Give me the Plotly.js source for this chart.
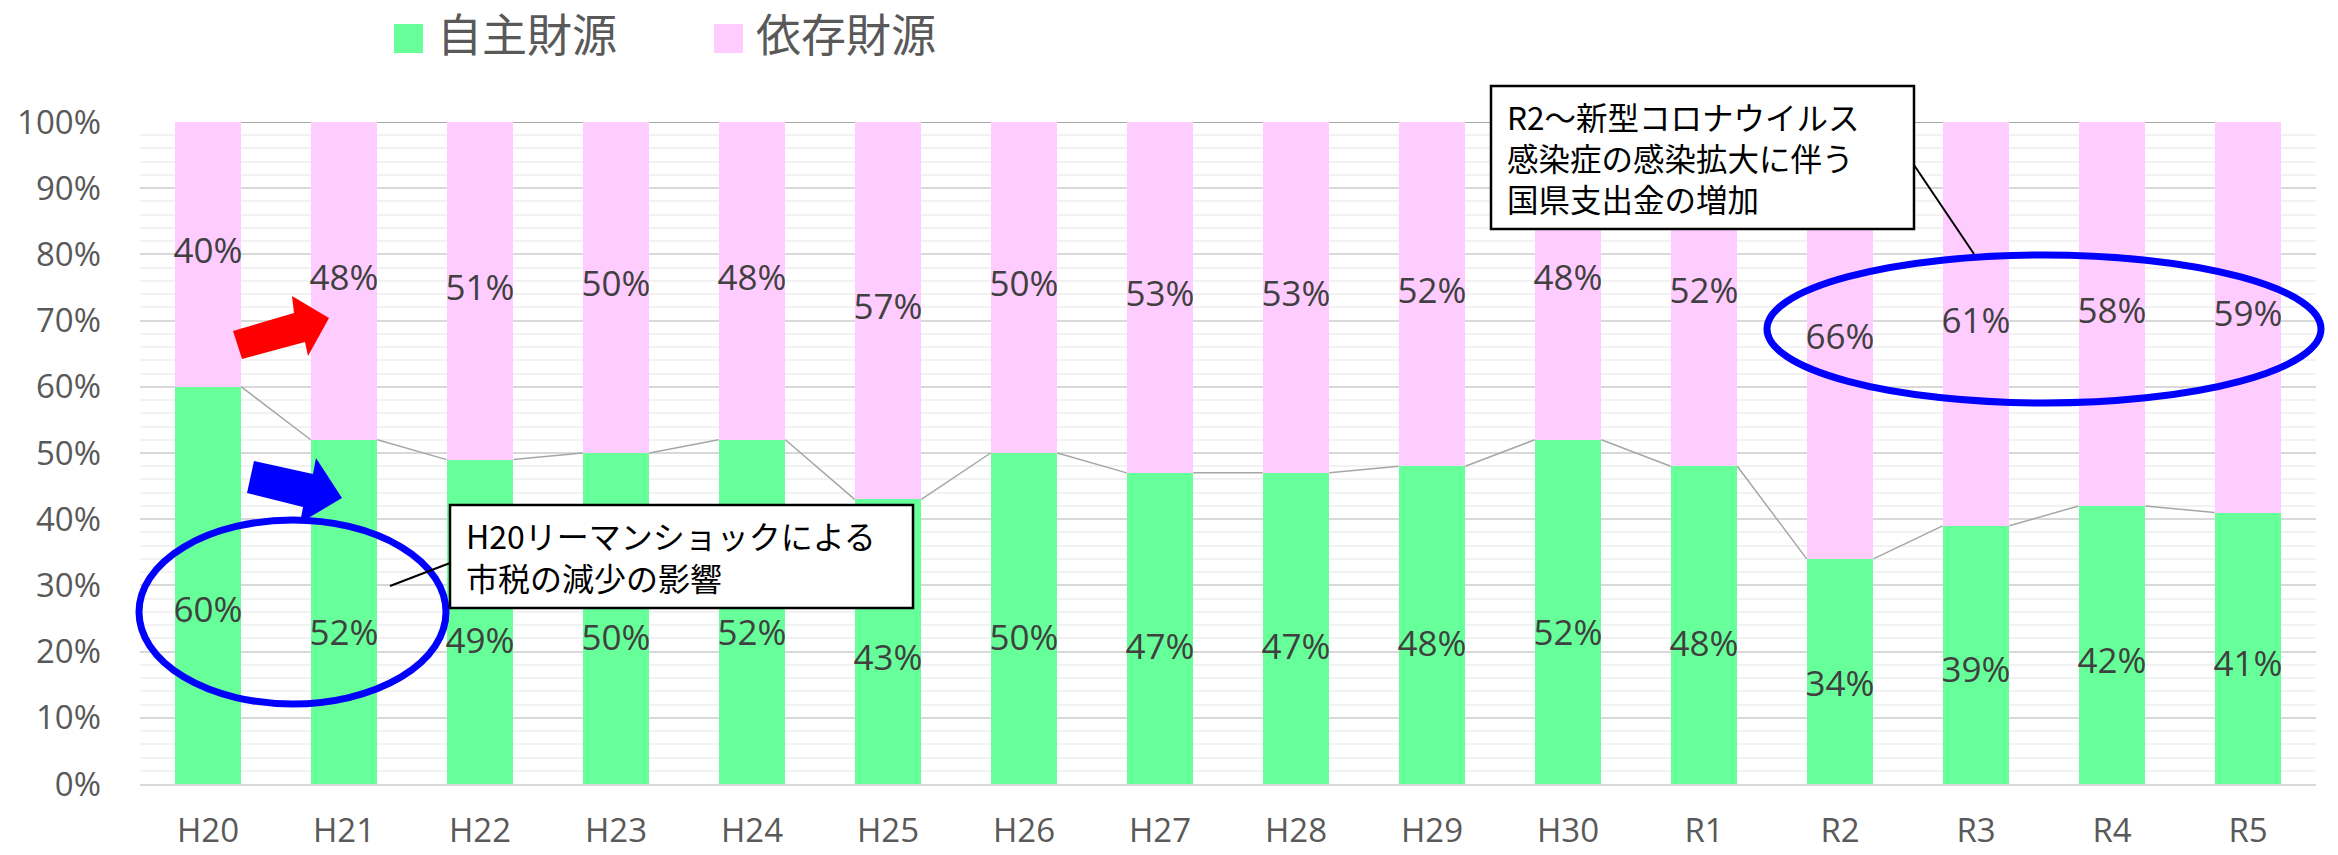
<!DOCTYPE html>
<html>
<head>
<meta charset="utf-8">
<script src="https://cdn.plot.ly/plotly-3.0.1.min.js"></script>
<style>
  html, body { margin: 0; padding: 0; background: #fff; }
  #chart { width: 2338px; height: 855px; }
</style>
</head>
<body>
<div id="chart"></div>
<script>
// ---- data ----
const categories = ['H20','H21','H22','H23','H24','H25','H26','H27','H28','H29','H30','R1','R2','R3','R4','R5'];
const jishuZaigen = [60, 52, 49, 50, 52, 43, 50, 47, 47, 48, 52, 48, 34, 39, 42, 41];   // 自主財源 (%)
const izonZaigen  = [40, 48, 51, 50, 48, 57, 50, 53, 53, 52, 48, 52, 66, 61, 58, 59];   // 依存財源 (%)
const seriesNames = ['自主財源', '依存財源'];
const yTickValues = [0, 10, 20, 30, 40, 50, 60, 70, 80, 90, 100];
const noteLehman = ['H20リーマンショックによる', '市税の減少の影響'];
const noteCorona = ['R2～新型コロナウイルス', '感染症の感染拡大に伴う', '国県支出金の増加'];

// ---- styling / geometry ----
const W = 2338, H = 855;
const L = 140, R = 22, T = 122, B = 71;
const plotW = W - L - R, plotH = H - T - B;
const GREEN = '#66FF99', PINK = '#FFCCFF';
const BAR_W = 0.49;
const GREEN_LABEL_FRAC = 0.43;   // label placement inside the green segment
const FONT = '"Open Sans", "Noto Sans CJK JP", sans-serif';
const JFONT = '"Noto Sans CJK JP", sans-serif';

// pixel -> paper helpers (for decorations only)
const px = v => (v - L) / plotW;
const py = v => (H - B - v) / plotH;

const xIdx = categories.map((_, i) => i);

// series lines (Excel style) connecting bar tops
function seriesLine(tops) {
  const xs = [], ys = [];
  for (let i = 0; i < tops.length - 1; i++) {
    xs.push(i + BAR_W / 2, i + 1 - BAR_W / 2, null);
    ys.push(tops[i], tops[i + 1], null);
  }
  return {xs, ys};
}
const greenTops = jishuZaigen;
const pinkTops = jishuZaigen.map((v, i) => v + izonZaigen[i]);
const sl1 = seriesLine(greenTops);
const sl2 = seriesLine(pinkTops);

const traces = [
  {type: 'bar', x: xIdx, y: jishuZaigen, name: seriesNames[0], width: BAR_W,
   marker: {color: GREEN}, hoverinfo: 'skip', showlegend: false},
  {type: 'bar', x: xIdx, y: izonZaigen, name: seriesNames[1], width: BAR_W,
   marker: {color: PINK}, hoverinfo: 'skip', showlegend: false},
  {type: 'scatter', mode: 'lines', x: sl1.xs, y: sl1.ys, connectgaps: false,
   line: {color: '#A6A6A6', width: 1.5}, hoverinfo: 'skip', showlegend: false},
  {type: 'scatter', mode: 'lines', x: sl2.xs, y: sl2.ys, connectgaps: false,
   line: {color: '#A6A6A6', width: 2}, hoverinfo: 'skip', showlegend: false, cliponaxis: false},
  {type: 'scatter', mode: 'text', x: xIdx, y: jishuZaigen.map(v => v * GREEN_LABEL_FRAC),
   text: jishuZaigen.map(v => v + '%'), textposition: 'middle center',
   textfont: {family: FONT, size: 35, color: '#404040'}, hoverinfo: 'skip', showlegend: false, cliponaxis: false},
  {type: 'scatter', mode: 'text', x: xIdx, y: jishuZaigen.map((v, i) => v + izonZaigen[i] / 2),
   text: izonZaigen.map(v => v + '%'), textposition: 'middle center',
   textfont: {family: FONT, size: 35, color: '#404040'}, hoverinfo: 'skip', showlegend: false, cliponaxis: false}
];

// ---- decorations ----
function poly(pts) {
  return 'M ' + pts.map(p => px(p[0]) + ',' + py(p[1])).join(' L ') + ' Z';
}
const shapes = [
  // legend squares
  {type: 'rect', xref: 'paper', yref: 'paper', x0: px(394), x1: px(423), y0: py(53), y1: py(24),
   fillcolor: GREEN, line: {width: 0}},
  {type: 'rect', xref: 'paper', yref: 'paper', x0: px(714), x1: px(743), y0: py(53), y1: py(24),
   fillcolor: PINK, line: {width: 0}},
  // red arrow
  {type: 'path', xref: 'paper', yref: 'paper', fillcolor: '#FF0000', line: {width: 0},
   path: poly([[233, 331], [242, 359], [305, 342], [308, 356], [329, 318], [292, 296], [294, 313]])},
  // blue arrow
  {type: 'path', xref: 'paper', yref: 'paper', fillcolor: '#0000FF', line: {width: 0},
   path: poly([[254, 461], [247, 493], [303, 507], [300, 523], [342, 498], [316, 458], [313, 474]])},
  // blue ellipses
  {type: 'circle', xref: 'paper', yref: 'paper', x0: px(139), x1: px(446), y0: py(704), y1: py(520),
   line: {color: '#0000FF', width: 7}},
  {type: 'circle', xref: 'paper', yref: 'paper', x0: px(1767), x1: px(2321), y0: py(403), y1: py(255),
   line: {color: '#0000FF', width: 7}},
  // callout 1
  {type: 'line', xref: 'paper', yref: 'paper', x0: px(450), y0: py(563), x1: px(390), y1: py(586),
   line: {color: '#000000', width: 2}},
  {type: 'rect', xref: 'paper', yref: 'paper', x0: px(450), x1: px(913), y0: py(608), y1: py(505),
   fillcolor: '#FFFFFF', line: {color: '#000000', width: 2.5}},
  // callout 2
  {type: 'line', xref: 'paper', yref: 'paper', x0: px(1914), y0: py(165), x1: px(1974), y1: py(254),
   line: {color: '#000000', width: 2}},
  {type: 'rect', xref: 'paper', yref: 'paper', x0: px(1491), x1: px(1914), y0: py(229), y1: py(86),
   fillcolor: '#FFFFFF', line: {color: '#000000', width: 2.5}}
];

const annotations = [
  {xref: 'paper', yref: 'paper', x: px(436), y: py(33), xanchor: 'left', yanchor: 'middle', borderpad: 0,
   text: seriesNames[0], showarrow: false, font: {family: JFONT, size: 45, color: '#595959'}},
  {xref: 'paper', yref: 'paper', x: px(755), y: py(33), xanchor: 'left', yanchor: 'middle', borderpad: 0,
   text: seriesNames[1], showarrow: false, font: {family: JFONT, size: 45, color: '#595959'}},
  {xref: 'paper', yref: 'paper', x: px(464), y: py(556), xanchor: 'left', yanchor: 'middle', align: 'left',
   text: noteLehman.join('<br>'), showarrow: false, font: {family: JFONT, size: 32, color: '#000000'}},
  {xref: 'paper', yref: 'paper', x: px(1505), y: py(157), xanchor: 'left', yanchor: 'middle', align: 'left',
   text: noteCorona.join('<br>'), showarrow: false, font: {family: JFONT, size: 31.5, color: '#000000'}}
];

const layout = {
  width: W, height: H,
  margin: {l: L, r: R, t: T, b: B, pad: 0},
  paper_bgcolor: '#FFFFFF', plot_bgcolor: '#FFFFFF',
  barmode: 'stack',
  showlegend: false,
  font: {family: FONT, color: '#595959'},
  xaxis: {
    type: 'linear', range: [-0.5, categories.length - 0.5],
    tickmode: 'array', tickvals: xIdx, ticktext: categories,
    tickfont: {family: FONT, size: 33, color: '#595959'},
    showgrid: false, zeroline: false, showline: true, linecolor: '#D9D9D9', linewidth: 2,
    ticks: '', ticklabelstandoff: 16, fixedrange: true
  },
  yaxis: {
    range: [0, 100], tickmode: 'array', tickvals: yTickValues,
    ticktext: yTickValues.map(v => v + '%'),
    tickfont: {family: FONT, size: 33, color: '#595959'},
    showgrid: true, gridcolor: '#D9D9D9', gridwidth: 2,
    minor: {dtick: 2, showgrid: true, gridcolor: '#F2F2F2', gridwidth: 2},
    zeroline: false, showline: false, ticks: '', ticklabelstandoff: 38, fixedrange: true
  },
  shapes: shapes,
  annotations: annotations
};

Plotly.newPlot('chart', traces, layout, {displayModeBar: false, staticPlot: true});
</script>
</body>
</html>
